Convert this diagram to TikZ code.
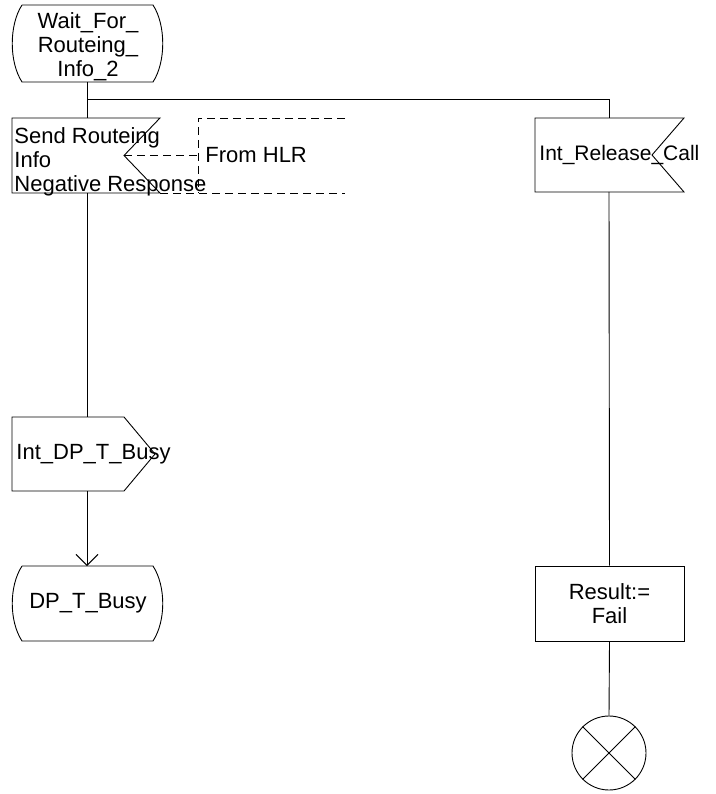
\documentclass[tikz,border=0pt]{standalone}
\usepackage{fontspec}
\setmainfont{Liberation Sans}
\usetikzlibrary{arrows.meta}
\begin{document}
\begin{tikzpicture}[x=1pt,y=-1pt,
  line width=0.9pt,
  lbl/.style={inner sep=0pt,font=\fontsize{22}{24}\selectfont},
  dsh/.style={dash pattern=on 8pt off 5pt},
  arr/.style={-{Straight Barb[length=11pt,width=22pt,line width=0.9pt]}}]
\useasboundingbox (0,0) rectangle (715,794);
% state 1
\coordinate (s1b) at (87,82);
\draw (22,5) -- (153,5) .. controls (166,25) and (166,62) .. (153,82) -- (22,82) .. controls (9,62) and (9,25) .. (22,5);
\node[lbl,align=center] (s1) at (88,47) {Wait\_For\_\\Routeing\_\\Info\_2};
% input 1
\coordinate (in1t) at (87,118);
\coordinate (in1b) at (87,193);
\coordinate (in1n) at (124,155.5);
\draw (12,118) -- (160,118) -- (in1n) -- (160,193) -- (12,193) -- cycle;
\node[lbl,align=left,anchor=north west] (in1) at (14,127) {Send Routeing\\Info\\Negative Response};
% dashed comment
\coordinate (cm) at (198,155.5);
\draw[dsh] (in1n) -- (cm);
\draw[dsh] (345,118) -- (198,118) -- (198,193);
\draw[dsh] (160,193) -- (345,193);
\node[lbl,anchor=west] (hlr) at (205,155.5) {From HLR};
% branch line
\coordinate (br) at (87,99);
\coordinate (brr) at (609,99);
\draw (s1b) -- (in1t);
\draw (br) -- (brr) -- (609,118);
% input 2
\coordinate (in2b) at (609,192);
\draw (535,118) -- (684,118) -- (652,155) -- (684,192) -- (535,192) -- cycle;
\node[lbl,anchor=west,font=\fontsize{21}{24}\selectfont] (in2) at (539,155) {Int\_Release\_Call};
% output
\coordinate (outt) at (87,417);
\coordinate (outb) at (87,491);
\draw (12,417) -- (124,417) -- (155,454) -- (124,491) -- (12,491) -- cycle;
\node[lbl,anchor=west] (out) at (16,454) {Int\_DP\_T\_Busy};
% state 2
\coordinate (s2t) at (87,566);
\draw (22,566) -- (153,566) .. controls (166,586) and (166,621) .. (153,641) -- (22,641) .. controls (9,621) and (9,586) .. (22,566);
\node[lbl] (s2) at (88,603.5) {DP\_T\_Busy};
% task
\node[draw,minimum width=149pt,minimum height=75pt,inner sep=0pt] (task) at (609.5,603.5) {};
\node[lbl,align=center] (tasktxt) at (609.5,603.5) {Result:=\\Fail};
% stop
\node[draw,circle,minimum size=74pt,inner sep=0pt] (stop) at (609,753) {};
\draw (stop.north west) -- (stop.south east);
\draw (stop.north east) -- (stop.south west);
% connectors
\draw (in1b) -- (outt);
\draw[arr] (outb) -- (s2t);
\draw (in2b) -- (task.north);
\draw (task.south) -- (stop.north);
\end{tikzpicture}
\end{document}
